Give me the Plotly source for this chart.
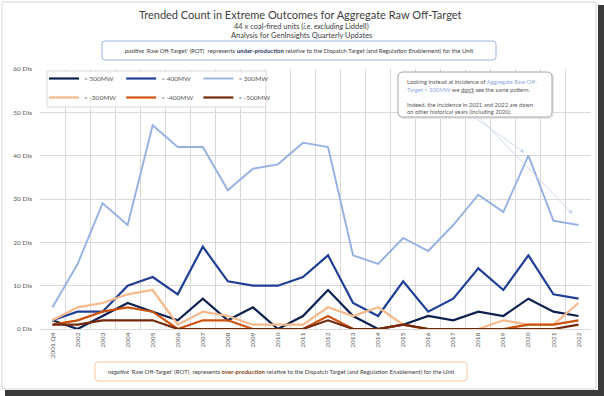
import plotly.graph_objects as go

# ---------------- data ----------------
categories = ["2001 Q4", "2002", "2003", "2004", "2005", "2006", "2007", "2008", "2009", "2010", "2011",
              "2012", "2013", "2014", "2015", "2016", "2017", "2018", "2019", "2020", "2021", "2022"]
gt500 = [2, 0, 3, 6, 4, 2, 7, 2, 5, 0, 3, 9, 3, 0, 1, 3, 2, 4, 3, 7, 4, 3]
gt400 = [2, 4, 4, 10, 12, 8, 19, 11, 10, 10, 12, 17, 6, 3, 11, 4, 7, 14, 9, 17, 8, 7]
gt300 = [5, 15, 29, 24, 47, 42, 42, 32, 37, 38, 43, 42, 17, 15, 21, 18, 24, 31, 27, 40, 25, 24]
lt300 = [2, 5, 6, 8, 9, 1, 4, 3, 1, 1, 1, 5, 3, 5, 1, 0, 0, 0, 2, 1, 1, 6]
lt400 = [1, 2, 4, 5, 4, 0, 2, 2, 0, 0, 0, 3, 0, 0, 1, 0, 0, 0, 0, 1, 1, 2]
lt500 = [1, 1, 2, 2, 2, 0, 0, 0, 0, 0, 0, 2, 0, 0, 1, 0, 0, 0, 0, 0, 0, 1]
series_names = ["> 500MW", "> 400MW", "> 300MW", "< -300MW", "< -400MW", "< -500MW"]
series_values = [gt500, gt400, gt300, lt300, lt400, lt500]
y_ticks = [0, 10, 20, 30, 40, 50, 60]
y_tick_labels = [f"{v} DIs" for v in y_ticks]

# ---------------- style ----------------
colors = ["#0c1f4d", "#1f3f96", "#95b1e2", "#f6b98c", "#cc530f", "#74290a"]
groups = ["a", "b", "c", "a", "b", "c"]
FONT = "Lato"
W, H = 604, 396
ML, MR, MT, MB = 40, 13, 69, 67
PW, PH = W - ML - MR, H - MT - MB


def px(X):
    return (X - ML) / PW


def py(Y):
    return (H - MB - Y) / PH


def rrect(x0, y0, x1, y1, r=4):
    # rounded rectangle path in paper coords from figure pixel coords
    pts = []
    pts.append(f"M {px(x0 + r)},{py(y0)}")
    pts.append(f"L {px(x1 - r)},{py(y0)}")
    pts.append(f"Q {px(x1)},{py(y0)} {px(x1)},{py(y0 + r)}")
    pts.append(f"L {px(x1)},{py(y1 - r)}")
    pts.append(f"Q {px(x1)},{py(y1)} {px(x1 - r)},{py(y1)}")
    pts.append(f"L {px(x0 + r)},{py(y1)}")
    pts.append(f"Q {px(x0)},{py(y1)} {px(x0)},{py(y1 - r)}")
    pts.append(f"L {px(x0)},{py(y0 + r)}")
    pts.append(f"Q {px(x0)},{py(y0)} {px(x0 + r)},{py(y0)}")
    pts.append("Z")
    return " ".join(pts)


fig = go.Figure()
for name, vals, col, grp in zip(series_names, series_values, colors, groups):
    fig.add_trace(go.Scatter(
        x=categories, y=vals, name=name, mode="lines",
        line=dict(color=col, width=2.2 if col != "#95b1e2" else 1.9),
        legendgroup=grp,
    ))

shapes = []
# outer frame and shadow
shapes.append(dict(type="rect", xref="paper", yref="paper", x0=px(2), x1=px(596), y0=py(2), y1=py(389),
                   line=dict(color="#d4d4d4", width=1), fillcolor="rgba(0,0,0,0)", layer="below"))
shapes.append(dict(type="rect", xref="paper", yref="paper", x0=px(598), x1=px(604), y0=py(5), y1=py(396),
                   line=dict(width=0), fillcolor="#3a3a3a", layer="below"))
shapes.append(dict(type="rect", xref="paper", yref="paper", x0=px(5), x1=px(604), y0=py(390), y1=py(396),
                   line=dict(width=0), fillcolor="#3a3a3a", layer="below"))
# legend box
shapes.append(dict(type="rect", xref="paper", yref="paper", x0=px(47), x1=px(266), y0=py(71), y1=py(107),
                   line=dict(color="#d9d9d9", width=1), fillcolor="white", layer="above"))
# boxes
shapes.append(dict(type="path", xref="paper", yref="paper", path=rrect(102, 41, 496, 60, 3),
                   line=dict(color="#9cb4e0", width=1), fillcolor="white"))
shapes.append(dict(type="path", xref="paper", yref="paper", path=rrect(95, 362, 467, 381, 3),
                   line=dict(color="#f6c7a4", width=1), fillcolor="white"))
shapes.append(dict(type="path", xref="paper", yref="paper", path=rrect(399, 73, 553, 118, 5),
                   line=dict(color="#e8e8e8", width=2), fillcolor="rgba(0,0,0,0)"))
shapes.append(dict(type="path", xref="paper", yref="paper", path=rrect(398, 72, 552, 117, 5),
                   line=dict(color="#a6a6a6", width=1), fillcolor="white"))

annotations = []
annotations.append(dict(xref="paper", yref="paper", x=px(301), y=py(26.5), yanchor="middle", showarrow=False,
                        text="44 x coal-fired units (<i>i.e. excluding</i> Liddell)",
                        font=dict(family=FONT, size=7.5, color="#404040")))
annotations.append(dict(xref="paper", yref="paper", x=px(301), y=py(35.5), yanchor="middle", showarrow=False,
                        text="Analysis for GenInsights Quarterly Updates",
                        font=dict(family=FONT, size=7.5, color="#404040")))
annotations.append(dict(xref="paper", yref="paper", x=px(299), y=py(50.5), yanchor="middle", showarrow=False,
                        text="<i>positive</i> 'Raw Off-Target' (ROT)  represents "
                             "<b><span style='color:#1f3864'>under-production</span></b> relative to the Dispatch "
                             "Target (and Regulation Enablement) for the Unit",
                        font=dict(family=FONT, size=6, color="#404040")))
annotations.append(dict(xref="paper", yref="paper", x=px(281), y=py(371.5), yanchor="middle", showarrow=False,
                        text="<i>negative</i> 'Raw Off-Target' (ROT)  represents "
                             "<b><span style='color:#843c0c'>over-production</span></b> relative to the Dispatch "
                             "Target (and Regulation Enablement) for the Unit",
                        font=dict(family=FONT, size=6, color="#404040")))
annotations.append(dict(xref="paper", yref="paper", x=px(405), y=py(76), xanchor="left", yanchor="top",
                        showarrow=False, align="left",
                        text="Looking instead at incidence of <span style='color:#8faadc'>Aggregate Raw Off-</span><br>"
                             "<span style='color:#8faadc'>Target &gt; 300MW</span> we <u>don't</u> see the same pattern.<br><br>"
                             "Indeed, the incidence in 2021 and 2022 are down<br>"
                             "on other historical years (including 2020).",
                        font=dict(family=FONT, size=5.8, color="#595959")))
# arrows to the 2020 and 2022 points of the > 300MW series
i20 = categories.index("2020")
i22 = categories.index("2022")
annotations.append(dict(x=i20 - 0.16, y=gt300[i20] + 0.7, xref="x", yref="y", text="", showarrow=True,
                        ax=-51, ay=-36, arrowhead=2, arrowsize=1, arrowwidth=0.8, arrowcolor="#c5d3ec"))
annotations.append(dict(x=i22 - 0.24, y=gt300[i22] + 2.6, xref="x", yref="y", text="", showarrow=True,
                        ax=-94, ay=-97, arrowhead=2, arrowsize=1, arrowwidth=0.8, arrowcolor="#c5d3ec"))

fig.update_layout(
    width=W, height=H,
    margin=dict(l=ML, r=MR, t=MT, b=MB),
    paper_bgcolor="white", plot_bgcolor="white",
    font=dict(family=FONT, color="#595959"),
    title=dict(text="Trended Count in Extreme Outcomes for Aggregate Raw Off-Target",
               x=0.497, xref="container", xanchor="center",
               y=1 - 15 / H, yref="container", yanchor="middle",
               font=dict(family=FONT, size=11, color="#404040")),
    showlegend=True,
    legend=dict(orientation="h", traceorder="grouped", x=px(44), y=py(64), xanchor="left", yanchor="top",
                bgcolor="rgba(0,0,0,0)", borderwidth=0,
                font=dict(family=FONT, size=6.5, color="#595959"), itemwidth=30,
                tracegroupgap=0),
    shapes=shapes,
    annotations=annotations,
)
fig.update_xaxes(type="category", tickson="boundaries", showgrid=True, gridcolor="#d9d9d9", gridwidth=1,
                 showline=True, linecolor="#d9d9d9", ticks="", tickangle=-90,
                 tickfont=dict(family=FONT, size=6.5, color="#595959"),
                 range=[-0.5, len(categories) - 0.5], fixedrange=True)
fig.update_yaxes(range=[0, 60], tickvals=y_ticks, ticktext=y_tick_labels, showgrid=True, gridcolor="#d9d9d9",
                 gridwidth=1, zeroline=False, showline=False, ticks="", ticklabelstandoff=7,
                 tickfont=dict(family=FONT, size=6.5, color="#595959"), fixedrange=True)

fig.write_html("out.html", config={"displayModeBar": False},
               post_script="document.body.style.margin='0';")
